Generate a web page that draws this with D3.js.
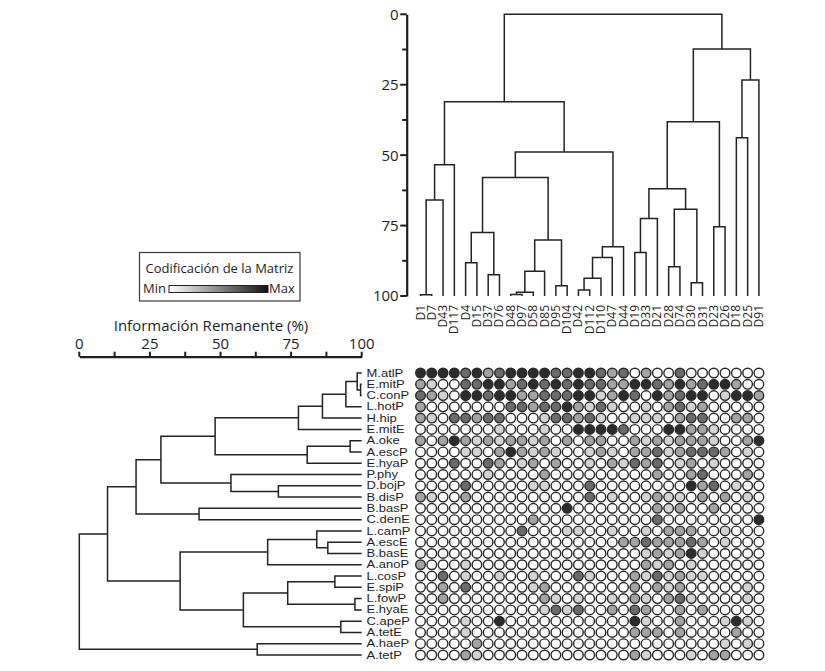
<!DOCTYPE html>
<html><head><meta charset="utf-8">
<script src="https://cdn.jsdelivr.net/npm/d3@7"></script>
<style>
body{margin:0;background:#fff}
svg{display:block}
text{font-family:"Open Sans",sans-serif;fill:#1e1e1e}
</style>
</head><body>
<svg id="chart" width="825" height="671"></svg>
<script>
// ---------- data ----------
const topLeaves = ["D1","D7","D43","D117","D4","D15","D37","D76","D48","D97","D58","D85","D95","D104","D42","D112","D110","D47","D44","D19","D33","D21","D28","D74","D30","D31","D23","D26","D18","D25","D91"];
// [childA, childB, height]; numbers refer to earlier merges
const topMerges = [
  ["D1","D7",99.6],[0,"D43",65.9],[1,"D117",53.4],
  ["D4","D15",88.2],["D37","D76",92.5],[3,4,77.5],
  ["D48","D97",99.5],[6,"D58",98.7],[7,"D85",91.2],["D95","D104",96.4],[8,9,80.1],[5,10,57.9],
  ["D42","D112",97.9],[12,"D110",93.7],[13,"D47",86.3],[14,"D44",82.5],[11,15,48.9],[2,16,31.0],
  ["D19","D33",84.6],[18,"D21",72.5],["D28","D74",89.6],["D30","D31",95.3],[20,21,69.2],[19,22,61.9],
  ["D23","D26",75.4],[23,24,38.1],["D18","D25",43.8],[26,"D91",23.3],[25,27,12.3],[17,28,0]
];
const leftLeaves = ["M.atlP","E.mitP","C.conP","L.hotP","H.hip","E.mitE","A.oke","A.escP","E.hyaP","P.phy","D.bojP","B.disP","B.basP","C.denE","L.camP","A.escE","B.basE","A.anoP","L.cosP","E.spiP","L.fowP","E.hyaE","C.apeP","A.tetE","A.haeP","A.tetP"];
const leftMerges = [
  ["E.mitP","C.conP",99.6],["M.atlP",0,98.4],[1,"L.hotP",94.4],[2,"H.hip",86.1],[3,"E.mitE",77.6],
  ["A.oke","A.escP",95.9],[5,"E.hyaP",80.7],[4,6,48.1],
  ["D.bojP","B.disP",70.5],["P.phy",8,53.7],[7,9,28.9],
  ["B.basP","C.denE",42.4],[10,11,20.1],
  ["A.escE","B.basE",88.0],["L.camP",13,84.1],[14,"A.anoP",66.7],
  ["L.cosP","E.spiP",90.5],["L.fowP","E.hyaE",97.6],[16,17,73.8],
  ["C.apeP","A.tetE",92.6],[18,19,58.1],[15,20,35.7],[12,21,10.0],
  ["A.haeP","A.tetP",63.0],[22,23,0]
];
// matrix coding level (0 = min ... 4 = max), rows = leftLeaves, cols = topLeaves
const matrixLevels = [
  [4,4,4,4,3,4,2,3,4,4,4,4,3,3,4,4,3,2,3,0,2,0,0,3,0,0,0,0,0,0,0],
  [2,1,0,0,3,3,4,4,2,3,4,3,4,3,4,3,3,2,2,4,4,3,2,4,2,3,4,4,2,0,0],
  [3,2,1,0,4,4,3,4,4,2,2,3,3,3,4,4,1,2,4,3,0,4,2,3,4,4,0,1,4,4,2],
  [2,0,0,0,0,0,0,0,3,3,2,3,3,4,2,1,3,1,0,0,1,0,2,3,1,2,0,0,0,0,0],
  [2,1,0,3,3,2,3,3,0,0,0,1,3,3,2,3,1,0,0,1,1,1,0,2,3,3,0,0,2,2,0],
  [0,0,0,0,0,0,0,1,0,0,0,1,0,0,4,4,4,4,3,0,0,0,4,4,2,2,1,0,0,0,0],
  [2,0,2,4,2,1,2,1,2,2,1,2,0,2,0,2,2,0,0,2,1,2,1,2,2,2,1,0,0,2,4],
  [0,0,0,0,1,1,0,2,4,2,1,2,1,0,0,1,2,1,0,2,2,3,1,2,3,3,3,2,0,1,0],
  [0,0,0,3,0,0,3,2,0,1,2,0,2,0,0,1,0,2,1,3,2,3,0,1,2,0,1,0,0,0,0],
  [0,0,0,0,0,0,1,0,0,0,0,2,0,0,0,0,0,0,0,0,0,2,0,0,2,3,0,0,0,2,0],
  [0,0,0,0,3,0,0,0,0,0,1,1,0,0,0,3,0,0,0,0,0,0,0,0,4,2,3,0,1,0,0],
  [2,1,0,0,2,0,0,0,0,0,0,0,0,0,0,3,0,1,0,0,1,2,1,1,0,2,0,2,0,1,0],
  [0,0,0,0,0,0,0,0,0,0,0,0,0,4,0,0,0,0,0,0,0,2,1,2,0,0,2,0,0,0,0],
  [0,0,0,0,0,0,0,0,0,0,2,0,0,0,0,0,0,0,0,0,0,3,0,0,0,0,0,0,0,0,4],
  [0,0,0,0,0,0,0,0,0,3,0,0,0,1,1,0,0,1,0,0,1,0,2,2,2,0,0,1,0,0,0],
  [0,0,0,0,0,0,0,0,0,0,0,0,0,0,0,0,0,0,2,2,3,2,2,2,3,2,0,1,0,0,0],
  [0,0,0,0,0,0,0,0,0,0,0,0,0,0,0,0,0,0,0,0,1,2,1,2,4,1,0,0,0,0,0],
  [2,0,0,0,1,0,0,0,0,0,0,0,0,0,0,0,0,0,0,0,2,1,2,0,1,0,0,0,0,0,0],
  [0,0,3,0,1,0,0,1,0,0,1,0,0,0,3,1,0,0,0,2,1,3,1,2,1,1,0,0,0,0,0],
  [0,0,2,0,3,0,0,0,0,0,1,2,0,0,0,0,0,0,0,2,0,2,1,2,0,0,0,0,0,1,0],
  [0,0,2,0,0,0,0,0,0,0,0,2,1,0,1,0,0,1,0,2,1,0,2,3,1,0,0,0,0,1,0],
  [0,0,0,0,0,0,0,0,0,0,0,1,3,1,3,0,0,2,0,3,2,0,0,2,0,2,0,0,0,0,0],
  [0,0,0,0,1,0,0,4,0,0,0,0,0,0,0,0,0,0,0,4,1,0,0,2,0,0,0,1,4,1,0],
  [0,0,0,0,1,0,0,0,0,0,0,0,0,0,0,0,0,0,0,2,2,2,0,2,0,0,0,0,2,0,0],
  [0,0,0,0,0,2,0,0,0,0,0,0,0,0,0,0,0,0,0,0,0,0,0,0,0,0,0,1,0,1,0],
  [0,0,0,0,2,1,0,0,0,0,0,0,0,0,0,0,0,0,0,2,1,0,0,0,1,0,2,2,0,0,0]
];
const levelColors = ["#ffffff","#d3d3d3","#a3a3a3","#6b6b6b","#2c2c2c"];
const axisTickValues = [0,12.5,25,37.5,50,62.5,75,87.5,100];
const axisLabelValues = [0,25,50,75,100];
const axisTitle = "Información Remanente (%)";
const legendTitle = "Codificación de la Matriz";
const legendMin = "Min", legendMax = "Max";

// ---------- helpers ----------
function buildTree(leaves, merges){
  const built = [];
  const res = r => typeof r === "number" ? built[r] : {name:r, h:100};
  merges.forEach(([a,b,h]) => built.push({h, children:[res(a), res(b)]}));
  return d3.hierarchy(built[built.length-1]);
}

const svg = d3.select("#chart");
const lineCol = "#232323";

// ---------- scales ----------
const colX = d3.scalePoint().domain(topLeaves).range([420.5, 758.9]);
const topY = d3.scaleLinear().domain([0,100]).range([14.3, 296]);
const rowY = d3.scalePoint().domain(leftLeaves).range([373, 655]);
const leftX = d3.scaleLinear().domain([0,100]).range([79.3, 361.7]);

// ---------- top dendrogram ----------
const topRoot = buildTree(topLeaves, topMerges);
topRoot.eachAfter(n => { n.pos = n.children ? d3.mean(n.children, c => c.pos) : colX(n.data.name); });
const gTop = svg.append("g");
gTop.selectAll("path.link").data(topRoot.descendants().filter(n => n.children))
  .join("path").attr("fill","none").attr("stroke",lineCol).attr("stroke-width",1.5)
  .attr("d", n => {
    const [a,b] = n.children;
    return `M${a.pos},${topY(a.data.h)}V${topY(n.data.h)}H${b.pos}V${topY(b.data.h)}`;
  });
gTop.selectAll("text.leaf").data(topLeaves).join("text")
  .attr("transform", d => `translate(${colX(d)+4},305) rotate(-90)`)
  .attr("text-anchor","end").attr("font-size",12).text(d => d);

// top axis
const gTopAxis = svg.append("g").attr("transform","translate(406.7,0)");
gTopAxis.call(d3.axisLeft(topY).tickValues(axisTickValues).tickSize(0).tickFormat(""));
gTopAxis.selectAll(".tick line").remove();
gTopAxis.select(".domain").attr("stroke","#1e1e1e").attr("stroke-width",2.2);
gTopAxis.selectAll("line.tk").data(axisTickValues).join("line")
  .attr("x1", d => axisLabelValues.includes(d) ? -6.5 : -4.5).attr("x2",0)
  .attr("y1", d => topY(d)).attr("y2", d => topY(d)).attr("stroke","#1e1e1e").attr("stroke-width",2);
gTopAxis.selectAll("text.lb").data(axisLabelValues).join("text")
  .attr("x",-8).attr("y", d => topY(d)).attr("dy","0.36em").attr("text-anchor","end")
  .attr("font-size",15).text(d => d);

// ---------- left dendrogram ----------
const leftRoot = buildTree(leftLeaves, leftMerges);
leftRoot.eachAfter(n => { n.pos = n.children ? d3.mean(n.children, c => c.pos) : rowY(n.data.name); });
const gLeft = svg.append("g");
gLeft.selectAll("path.link").data(leftRoot.descendants().filter(n => n.children))
  .join("path").attr("fill","none").attr("stroke",lineCol).attr("stroke-width",1.5)
  .attr("d", n => {
    const [a,b] = n.children;
    return `M${leftX(a.data.h)},${a.pos}H${leftX(n.data.h)}V${b.pos}H${leftX(b.data.h)}`;
  });
// row labels: compact line metrics so neighbouring rows do not collide
gLeft.selectAll("text.leaf").data(leftLeaves).join("text")
  .attr("transform", d => `translate(366.5,${rowY(d)}) scale(1.3,1)`)
  .attr("dy","0.36em")
  .style("font-family","'Liberation Sans',Arial,sans-serif")
  .attr("font-size",10).text(d => d);

// left axis
const gLeftAxis = svg.append("g").attr("transform","translate(0,356.7)");
gLeftAxis.call(d3.axisTop(leftX).tickValues(axisTickValues).tickSize(0).tickFormat(""));
gLeftAxis.select(".domain").attr("stroke","#1e1e1e").attr("stroke-width",2.2);
gLeftAxis.selectAll(".tick line").remove();
gLeftAxis.selectAll("line.tk").data(axisTickValues).join("line")
  .attr("y1", -5).attr("y2",0)
  .attr("x1", d => leftX(d)).attr("x2", d => leftX(d)).attr("stroke","#1e1e1e").attr("stroke-width",2);
gLeftAxis.selectAll("text.lb").data(axisLabelValues).join("text")
  .attr("x", d => leftX(d)).attr("y",-7.5).attr("text-anchor","middle")
  .attr("font-size",15).text(d => d);
svg.append("text").attr("x",211).attr("y",331).attr("text-anchor","middle")
  .attr("font-size",15).text(axisTitle);

// ---------- legend ----------
const defs = svg.append("defs");
const grad = defs.append("linearGradient").attr("id","lg");
grad.append("stop").attr("offset","0%").attr("stop-color","#ffffff");
grad.append("stop").attr("offset","100%").attr("stop-color","#111111");
svg.append("rect").attr("x",139.5).attr("y",252.5).attr("width",160.5).attr("height",48.5)
  .attr("fill","none").attr("stroke","#3a3a3a").attr("stroke-width",1.2);
svg.append("text").attr("x",219.5).attr("y",273).attr("text-anchor","middle").attr("font-size",13).text(legendTitle);
svg.append("text").attr("x",143).attr("y",293).attr("font-size",13).text(legendMin);
svg.append("rect").attr("x",169).attr("y",285.5).attr("width",99).attr("height",7)
  .attr("fill","url(#lg)").attr("stroke","#222").attr("stroke-width",1);
svg.append("text").attr("x",269).attr("y",293).attr("font-size",13).text(legendMax);

// ---------- matrix ----------
const cells = [];
matrixLevels.forEach((row,i) => row.forEach((v,j) => cells.push({r:leftLeaves[i], c:topLeaves[j], v})));
svg.append("g").selectAll("circle").data(cells).join("circle")
  .attr("cx", d => colX(d.c)).attr("cy", d => rowY(d.r)).attr("r",4.8)
  .attr("fill", d => levelColors[d.v]).attr("stroke","#2a2a2a").attr("stroke-width",1.4);
</script>
</body></html>
